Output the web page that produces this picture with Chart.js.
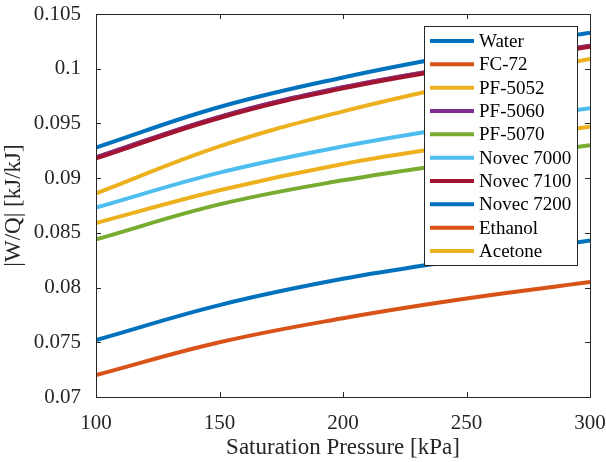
<!DOCTYPE html>
<html lang="en">
<head>
    <meta charset="UTF-8">
    <title>Work to Heat Ratio vs Saturation Pressure</title>
    <script src="https://cdn.jsdelivr.net/npm/chart.js"></script>
    <style>
        body {
            margin: 0;
            padding: 0;
            background: #ffffff;
        }

        canvas {
            display: block;
        }
    </style>
</head>
<body>
    <canvas id="ratioChart" width="606" height="462"></canvas>

    <script>
        // Saturation pressure [kPa]
        const pressure = [100, 150, 200, 250, 300];

        // |W/Q| values
        const water = [0.0928, 0.0965, 0.0992, 0.1014, 0.1033];
        const fc72 = [0.0919, 0.0956, 0.0983, 0.1003, 0.1021];
        const pf5052 = [0.0886, 0.0929, 0.0961, 0.0987, 0.1009];
        const pf5060 = [0.0919, 0.0956, 0.0983, 0.1003, 0.1021];
        const pf5070 = [0.0844, 0.0876, 0.0898, 0.0915, 0.0930];
        const novec7000 = [0.0873, 0.0905, 0.0929, 0.0948, 0.0964];
        const novec7100 = [0.0918, 0.0955, 0.0982, 0.1002, 0.1020];
        const novec7200 = [0.0752, 0.0784, 0.0808, 0.0826, 0.0843];
        const ethanol = [0.0720, 0.0750, 0.0772, 0.0790, 0.0805];
        const acetone = [0.0859, 0.0889, 0.0913, 0.0931, 0.0947];

        const fluidNames = ["Water", "FC-72", "PF-5052", "PF-5060", "PF-5070",
            "Novec 7000", "Novec 7100", "Novec 7200", "Ethanol", "Acetone"];
        const fluidValues = [water, fc72, pf5052, pf5060, pf5070,
            novec7000, novec7100, novec7200, ethanol, acetone];

        const xTicks = [100, 150, 200, 250, 300];
        const yTicks = [0.07, 0.075, 0.08, 0.085, 0.09, 0.095, 0.1, 0.105];

        const colors = ['#0072BD', '#D95319', '#EDB120', '#7E2F8E', '#77AC30',
            '#4DBEEE', '#A2142F', '#0072BD', '#D95319', '#EDB120'];

        const axisColor = '#262626';
        const serif = "'Liberation Serif', 'Times New Roman', serif";

        const datasets = fluidNames.map((name, i) => ({
            label: name,
            data: pressure.map((p, j) => ({ x: p, y: fluidValues[i][j] })),
            borderColor: colors[i],
            backgroundColor: colors[i],
            borderWidth: 4,
            pointRadius: 0,
            fill: false,
            tension: 0.4,
            // later series on top, like MATLAB
            order: fluidNames.length - i
        }));

        // box, inward ticks and the legend inside the axes
        const matlabAxes = {
            id: 'matlabAxes',
            afterDraw(chart) {
                const ctx = chart.ctx;
                const a = chart.chartArea;
                const xs = chart.scales.x;
                const ys = chart.scales.y;
                ctx.save();
                ctx.strokeStyle = axisColor;
                ctx.lineWidth = 1;
                ctx.beginPath();
                xTicks.forEach(t => {
                    const px = Math.round(xs.getPixelForValue(t)) + 0.5;
                    ctx.moveTo(px, a.bottom); ctx.lineTo(px, a.bottom - 5);
                    ctx.moveTo(px, a.top); ctx.lineTo(px, a.top + 5);
                });
                yTicks.forEach(t => {
                    const py = Math.round(ys.getPixelForValue(t)) + 0.5;
                    ctx.moveTo(a.left, py); ctx.lineTo(a.left + 5, py);
                    ctx.moveTo(a.right, py); ctx.lineTo(a.right - 5, py);
                });
                ctx.stroke();
                ctx.strokeRect(Math.round(a.left) + 0.5, Math.round(a.top) + 0.5,
                    Math.round(a.right - a.left), Math.round(a.bottom - a.top));

                // legend
                const lx = 424, ly = 26, lw = 153, lh = 239;
                ctx.fillStyle = '#ffffff';
                ctx.fillRect(lx, ly, lw, lh);
                ctx.strokeRect(lx + 0.5, ly + 0.5, lw, lh);
                ctx.font = "19px " + serif;
                ctx.textBaseline = 'middle';
                chart.data.datasets.forEach((ds, i) => {
                    const y = ly + 15 + i * 23.33;
                    ctx.strokeStyle = ds.borderColor;
                    ctx.lineWidth = 4;
                    ctx.beginPath();
                    ctx.moveTo(lx + 6, y);
                    ctx.lineTo(lx + 50, y);
                    ctx.stroke();
                    ctx.fillStyle = '#000000';
                    ctx.fillText(ds.label, lx + 55, y + 1);
                });
                ctx.restore();
            }
        };

        new Chart(document.getElementById('ratioChart'), {
            type: 'line',
            data: { datasets: datasets },
            options: {
                responsive: false,
                animation: false,
                layout: { padding: { top: 14, right: 16, left: 0, bottom: 0 } },
                plugins: {
                    legend: { display: false },
                    tooltip: { enabled: false }
                },
                scales: {
                    x: {
                        type: 'linear',
                        min: 100,
                        max: 300,
                        afterBuildTicks: s => { s.ticks = xTicks.map(v => ({ value: v })); },
                        afterFit: s => { s.height = 65; s.paddingLeft = 0; s.paddingRight = 0; },
                        grid: { display: false },
                        border: { display: false },
                        ticks: {
                            color: axisColor,
                            font: { family: serif, size: 21 },
                            padding: 6,
                            maxRotation: 0
                        },
                        title: {
                            display: true,
                            text: 'Saturation Pressure [kPa]',
                            color: axisColor,
                            font: { family: serif, size: 23 },
                            padding: { top: 0, bottom: 0 }
                        }
                    },
                    y: {
                        type: 'linear',
                        min: 0.07,
                        max: 0.105,
                        afterBuildTicks: s => { s.ticks = yTicks.map(v => ({ value: v })); },
                        afterFit: s => { s.width = 96; s.paddingTop = 0; s.paddingBottom = 0; },
                        grid: { display: false },
                        border: { display: false },
                        ticks: {
                            color: axisColor,
                            font: { family: serif, size: 21 },
                            padding: 7,
                            callback: v => String(parseFloat(v.toFixed(3)))
                        },
                        title: {
                            display: true,
                            text: '|W/Q| [kJ/kJ]',
                            color: axisColor,
                            font: { family: serif, size: 23 },
                            padding: { top: 0, bottom: 8 }
                        }
                    }
                }
            },
            plugins: [matlabAxes]
        });
    </script>
</body>
</html>
